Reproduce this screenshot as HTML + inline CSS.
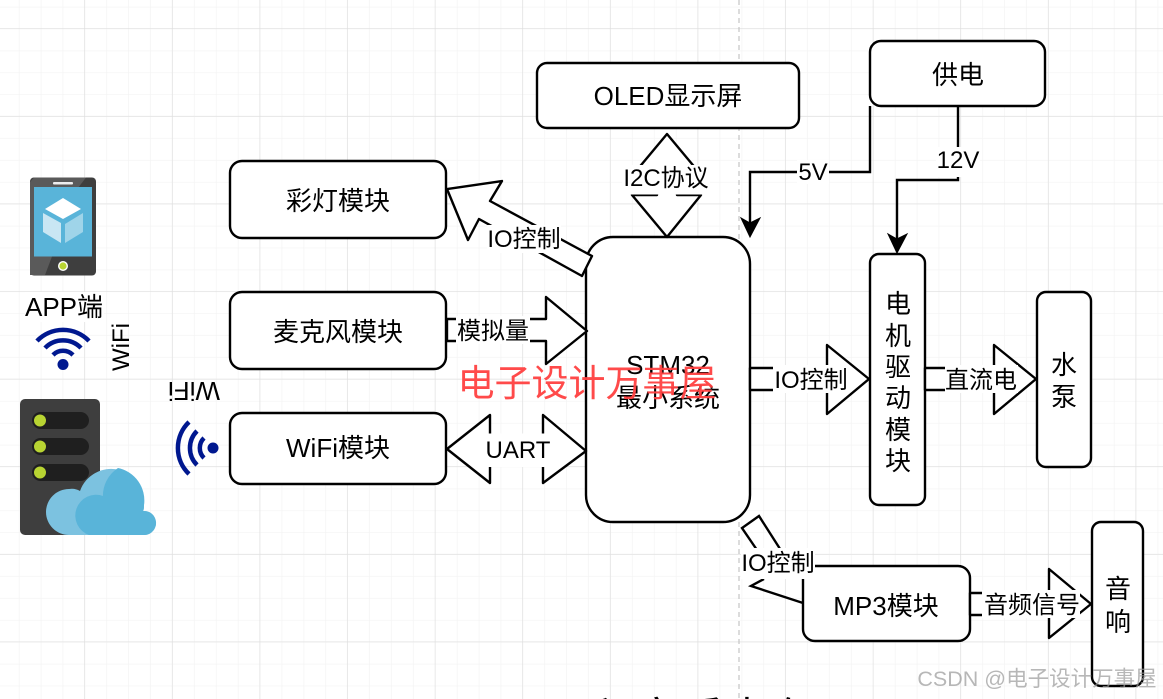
<!DOCTYPE html>
<html><head><meta charset="utf-8"><style>
html,body{margin:0;padding:0;background:#fff;width:1163px;height:699px;overflow:hidden}
svg{display:block}
text{font-family:"Liberation Sans","Noto Sans CJK SC",sans-serif;fill:#000;text-anchor:middle}
.n{font-size:26px}.l{font-size:24px}
.s{fill:#fff;stroke:#000;stroke-width:2.4;stroke-linejoin:round}
.o{fill:none;stroke:#000;stroke-width:2.4}
#wrap{position:relative;width:1163px;height:699px;overflow:hidden}
#clip{position:absolute;left:545px;top:690px;width:275px;height:9px;overflow:hidden;font:44px/60px "Liberation Sans","Noto Sans CJK SC",sans-serif;letter-spacing:1px;white-space:nowrap;color:#000}
</style></head><body><div id="wrap">
<svg width="1163" height="699" viewBox="0 0 1163 699" xmlns="http://www.w3.org/2000/svg">
<defs>
<pattern id="m" x="-2.4" y="7.4" width="21.9" height="21.9" patternUnits="userSpaceOnUse"><path d="M21.9 0V21.9M0 21.9H21.9" stroke="#f3f3f3" stroke-width="1.3" fill="none"/></pattern>
<pattern id="g" x="-2.6" y="-58.6" width="87.6" height="87.6" patternUnits="userSpaceOnUse"><path d="M87.6 0V87.6M0 87.6H87.6" stroke="#dedede" stroke-width="1.2" fill="none"/></pattern>
</defs>
<rect width="1163" height="699" fill="#fff"/>
<rect width="1163" height="699" fill="url(#m)"/>
<rect width="1163" height="699" fill="url(#g)"/>
<line x1="739" y1="0" x2="739" y2="699" stroke="#c4c4c4" stroke-width="1.2" stroke-dasharray="5 4"/>

<!-- boxes -->
<rect class="s" x="537" y="63" width="262" height="65" rx="10"/>
<rect class="s" x="870" y="41" width="175" height="65" rx="11"/>
<rect class="s" x="230" y="161" width="216" height="77" rx="12"/>
<rect class="s" x="230" y="292" width="216" height="77" rx="12"/>
<rect class="s" x="230" y="413" width="216" height="71" rx="12"/>
<rect class="s" x="586" y="237" width="164" height="285" rx="27"/>
<rect class="s" x="870" y="254" width="55" height="251" rx="9"/>
<rect class="s" x="1037" y="292" width="54" height="175" rx="9"/>
<rect class="s" x="803" y="566" width="167" height="75" rx="12"/>
<rect class="s" x="1092" y="522" width="51" height="164" rx="9"/>

<!-- block arrows -->
<polygon class="s" points="667,134 702,176 677,176 677,195 701,195 667,237 632,195 657,195 657,176 632,176"/>
<polygon class="s" points="447,189 502,181 490,201 592,256 582,276 479,219 468,240"/>
<polygon class="s" points="447,319 546,319 546,297 587,331 546,364 546,341 447,341"/>
<polygon class="s" points="447,449 490,415 490,435 543,435 543,415 586,451 543,483 543,465 490,465 490,483"/>
<polygon class="s" points="750,368 827,368 827,345 869,379 827,414 827,390 750,390"/>
<polygon class="s" points="925,368 994,368 994,345 1036,379 994,414 994,390 925,390"/>
<polygon class="s" points="970,593 1049,593 1049,569 1091,604 1049,638 1049,615 970,615"/>
<polyline class="o" points="757,550 742,528 759,516 782,552"/>
<polyline class="o" points="764,579 751,586 803,603"/>

<!-- connectors -->
<polyline class="o" points="870,106 870,172 750,172 750,224"/>
<polygon points="750,237 741,218 750,223 760,218" fill="#000" stroke="#000"/>
<polyline class="o" points="958,106 958,180 897,180 897,240"/>
<polygon points="897,253 888,234 897,239 907,234" fill="#000" stroke="#000"/>

<!-- label backgrounds -->
<g fill="#fff">
<rect x="622" y="165" width="88" height="29.5"/>
<rect x="487" y="225" width="74" height="28"/>
<rect x="456" y="316" width="74" height="28"/>
<rect x="484" y="433.5" width="68" height="33.5"/>
<rect x="773" y="365" width="76" height="28"/>
<rect x="945" y="365" width="73" height="28"/>
<rect x="982" y="590" width="98" height="28"/>
<rect x="741" y="548" width="74" height="31"/>
<rect x="797" y="160" width="32" height="24"/>
<rect x="936" y="147" width="44" height="30"/>
</g>

<!-- node labels -->
<text class="n" x="668" y="105">OLED显示屏</text>
<text class="n" x="958" y="84">供电</text>
<text class="n" x="338" y="210">彩灯模块</text>
<text class="n" x="338" y="341">麦克风模块</text>
<text class="n" x="338" y="457">WiFi模块</text>
<text class="n" x="668" y="374">STM32</text>
<text class="n" x="668" y="407">最小系统</text>
<text class="n" x="898" y="313">电</text><text class="n" x="898" y="345">机</text><text class="n" x="898" y="376">驱</text><text class="n" x="898" y="407">动</text><text class="n" x="898" y="439">模</text><text class="n" x="898" y="470">块</text>
<text class="n" x="1064" y="374">水</text><text class="n" x="1064" y="406">泵</text>
<text class="n" x="1118" y="598">音</text><text class="n" x="1118" y="631">响</text>
<text class="n" x="886" y="615">MP3模块</text>

<!-- connector labels -->
<text class="l" x="666" y="186">I2C协议</text>
<text class="l" x="524" y="247">IO控制</text>
<text class="l" x="493" y="339">模拟量</text>
<text class="l" x="518" y="458">UART</text>
<text class="l" x="811" y="388">IO控制</text>
<text class="l" x="981" y="388">直流电</text>
<text class="l" x="1032" y="613">音频信号</text>
<text class="l" x="778" y="571">IO控制</text>
<text class="l" x="813" y="180">5V</text>
<text class="l" x="958" y="168">12V</text>

<!-- phone -->
<rect x="30" y="177.5" width="66" height="98" rx="4" fill="#3e3e3e"/>
<polygon points="30,275 30,182 34,177.5 86,177.5 78,188 45,275" fill="#5a5a5a"/>
<rect x="34" y="187" width="58" height="69.5" fill="#59b4d9"/>
<rect x="53" y="182" width="20" height="2.5" rx="1" fill="#eee"/>
<circle cx="63" cy="266" r="5" fill="#fff"/><circle cx="63" cy="266" r="3.6" fill="#b8d432"/>
<polygon points="63,198 81,209 63,219 45,209" fill="#fff"/>
<polygon points="43,213 61,223 61,243 43,232" fill="#c9e6f3"/>
<polygon points="65,224 83,213 83,232 65,243" fill="#9fd4e9"/>

<!-- APP label -->
<rect x="25" y="292" width="79" height="30" fill="#fff"/>
<text x="64" y="316" style="font-size:26px">APP端</text>

<!-- wifi 1 -->
<circle cx="63" cy="364.5" r="5.5" fill="#00188f"/>
<g fill="none" stroke="#00188f" stroke-width="4.5">
<path d="M53,355 A14,14 0 0 1 73,355"/>
<path d="M45,348 A25,25 0 0 1 81,348"/>
<path d="M37,341 A36,36 0 0 1 89,341"/>
</g>
<text class="l" transform="translate(129,347) rotate(-90)" x="0" y="0">WiFi</text>
<text transform="translate(194,382) rotate(180)" x="0" y="0" style="font-size:26px">WiFi</text>

<!-- wifi 2 -->
<circle cx="213" cy="448" r="5.5" fill="#00188f"/>
<g fill="none" stroke="#00188f" stroke-width="4.5">
<path d="M204,438 A14,14 0 0 0 204,458"/>
<path d="M197,431 A24,24 0 0 0 197,465"/>
<path d="M189,422 A36,36 0 0 0 189,474"/>
</g>

<!-- server -->
<rect x="20" y="399" width="80" height="136" rx="5" fill="#3e3e3e"/>
<g fill="#1f1f1f">
<rect x="32" y="412" width="57" height="17" rx="8.5"/>
<rect x="32" y="438" width="57" height="17" rx="8.5"/>
<rect x="32" y="464" width="57" height="17" rx="8.5"/>
</g>
<g fill="#b8d432">
<circle cx="40" cy="420.5" r="6"/><circle cx="40" cy="446.5" r="6"/><circle cx="40" cy="472.5" r="6"/>
</g>
<path d="M69,535 A20,20 0 0 1 69,489 Q75,488 80,491 A33,33 0 0 1 144,505 Q144,510 143,511 A12,12 0 0 1 145,535 Z" fill="#7cc2e0"/>
<path d="M103,498 A33,33 0 0 1 118,468 A33,33 0 0 1 144,505 Q144,510 143,511 A12,12 0 0 1 145,535 L89,535 A20,20 0 0 1 103,496 Z" fill="#59b4d9"/>

<!-- watermarks -->
<text x="587" y="396" style="font-size:37px;fill:#ff4040;fill-opacity:.95">电子设计万事屋</text>
<text x="1037" y="686" style="font-size:21.5px;fill:#999;fill-opacity:.7">CSDN @电子设计万事屋</text>
</svg>
<div id="clip">远程音质声存</div>
</div></body></html>
